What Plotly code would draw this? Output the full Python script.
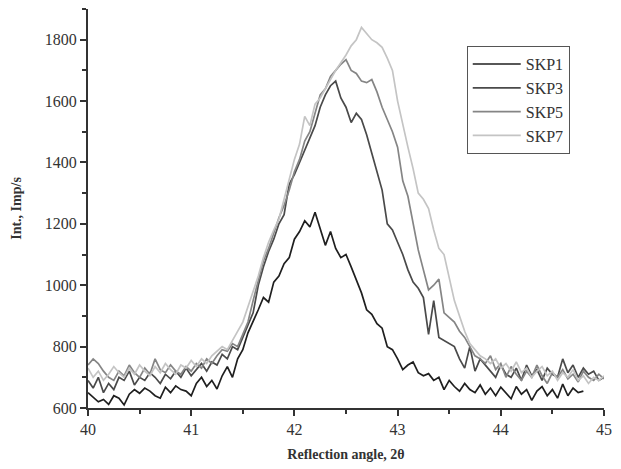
import plotly.graph_objects as go

# Scan angles (2θ, degrees)
angles = [
    40.00, 40.05, 40.10, 40.15, 40.20, 40.25, 40.30, 40.35, 40.40, 40.45,
    40.50, 40.55, 40.60, 40.65, 40.70, 40.75, 40.80, 40.85, 40.90, 40.95,
    41.00, 41.05, 41.10, 41.15, 41.20, 41.25, 41.30, 41.35, 41.40, 41.45,
    41.50, 41.55, 41.60, 41.65, 41.70, 41.75, 41.80, 41.85, 41.90, 41.95,
    42.00, 42.05, 42.10, 42.15, 42.20, 42.25, 42.30, 42.35, 42.40, 42.45,
    42.50, 42.55, 42.60, 42.65, 42.70, 42.75, 42.80, 42.85, 42.90, 42.95,
    43.00, 43.05, 43.10, 43.15, 43.20, 43.25, 43.30, 43.35, 43.40, 43.45,
    43.50, 43.55, 43.60, 43.65, 43.70, 43.75, 43.80, 43.85, 43.90, 43.95,
    44.00, 44.05, 44.10, 44.15, 44.20, 44.25, 44.30, 44.35, 44.40, 44.45,
    44.50, 44.55, 44.60, 44.65, 44.70, 44.75, 44.80, 44.85, 44.90, 44.95,
    45.00,
]

# Intensities, Imp/s
skp1 = [
    650, 635, 620, 628, 612, 640, 632, 610, 645, 660,
    648, 665, 655, 640, 632, 668, 650, 672, 660, 655,
    640, 680, 700, 670, 690, 662, 705, 735, 700, 760,
    790, 845, 880, 920, 960, 945, 1010, 1030, 1070, 1090,
    1150, 1175, 1210, 1190, 1238, 1180, 1130, 1175, 1120, 1090,
    1100, 1060, 1020, 975, 920, 905, 875, 860, 800, 790,
    760, 725, 740, 750, 715, 705, 712, 690, 700, 660,
    690, 670, 655, 680, 660, 650, 675, 645, 665, 640,
    668, 650, 630, 670, 645, 660, 625, 655, 670, 640,
    660, 632, 678, 640, 665, 650, 655,
]
skp3 = [
    690, 665, 700, 650, 680, 660, 700, 690, 720, 675,
    700, 690, 715, 700, 680, 710, 695, 720, 700, 730,
    705, 725, 745, 720, 750, 740, 775, 760, 800, 790,
    830, 870, 910, 1000, 1060, 1110, 1150, 1200, 1230, 1330,
    1360, 1400, 1440, 1480, 1520, 1580, 1620, 1650, 1665, 1610,
    1580, 1530, 1560, 1540, 1490, 1430, 1370, 1310, 1200, 1180,
    1140, 1100, 1050, 1010, 990, 960, 840, 950, 830, 820,
    810, 800, 760, 730, 800, 720, 760, 740, 720, 700,
    740, 710, 700, 730, 690, 740, 705, 725, 690, 730,
    710, 700, 760, 715, 740, 700, 730, 710, 720, 690,
    700,
]
skp5 = [
    740, 760, 745, 720, 700, 690, 720, 705, 740, 715,
    700, 730, 710, 760, 725, 715, 740, 720, 710, 735,
    720, 745, 730, 760, 745, 770, 790, 785, 810, 800,
    840, 880, 950, 1020, 1080, 1120, 1170, 1220, 1260, 1310,
    1370, 1410, 1470, 1500, 1560, 1620, 1640, 1680, 1700, 1720,
    1735, 1700, 1690, 1665, 1660, 1670, 1630, 1580, 1540, 1500,
    1450, 1340, 1290, 1200, 1115, 1050, 985, 1000, 1020, 910,
    895, 880, 850, 830, 800, 770, 760, 745, 770, 725,
    745, 700, 735, 710, 690, 720, 700, 740, 705, 680,
    715, 700, 725, 695, 710, 685, 720, 700, 690, 710,
    695,
]
skp7 = [
    730, 700, 720, 690, 710, 735, 715, 700, 730, 710,
    740, 720, 705, 735, 715, 745, 725, 710, 740, 730,
    755, 735, 760, 745, 770, 785, 800, 790, 820, 850,
    880, 930, 980, 1030, 1090, 1140, 1180, 1215, 1280, 1350,
    1410, 1460, 1550, 1520, 1590, 1610, 1640, 1670, 1700, 1725,
    1750, 1780, 1800, 1840, 1820, 1800, 1790, 1775, 1740, 1700,
    1600, 1520, 1450, 1380, 1300, 1280, 1250, 1180, 1120, 1100,
    1020, 950, 900, 850, 810, 790, 770, 760, 745, 760,
    730, 745, 720, 750, 715, 730, 700, 720, 735, 705,
    720, 690, 715, 700, 725, 690, 705, 680, 700, 690,
    705,
]

names = ["SKP1", "SKP3", "SKP5", "SKP7"]
series = [skp1, skp3, skp5, skp7]
colors = ["#1f1f1f", "#4a4a4a", "#858585", "#c4c4c4"]

fig = go.Figure()
for name, ys, col in zip(names, series, colors):
    fig.add_trace(go.Scatter(
        x=angles[:len(ys)], y=ys, mode="lines", name=name,
        line=dict(color=col, width=1.7),
    ))

serif = "Liberation Serif, Times New Roman, serif"
axis_common = dict(
    showline=True, linecolor="#333333", linewidth=2,
    ticks="outside", ticklen=6, tickwidth=1.5, tickcolor="#333333",
    showgrid=False, zeroline=False, mirror=False,
    tickfont=dict(family=serif, size=16, color="#333333"),
)

fig.update_layout(
    width=621, height=469,
    margin=dict(l=88, r=11, t=9, b=61),
    paper_bgcolor="white", plot_bgcolor="white",
    font=dict(family=serif, color="#333333"),
    xaxis=dict(
        range=[40, 45], dtick=1, tick0=40,
        minor=dict(dtick=0.5, ticks="outside", ticklen=4, tickwidth=1.5,
                   tickcolor="#333333"),
        title=dict(text="<b>Reflection angle, 2θ</b>",
                   font=dict(family=serif, size=14, color="#333333"),
                   standoff=12),
        **axis_common,
    ),
    yaxis=dict(
        range=[600, 1900], dtick=200, tick0=600,
        minor=dict(dtick=100, ticks="outside", ticklen=4, tickwidth=1.5,
                   tickcolor="#333333"),
        title=dict(text="<b>Int., Imp/s</b>",
                   font=dict(family=serif, size=14, color="#333333"),
                   standoff=20),
        **axis_common,
    ),
    legend=dict(
        x=0.734, y=0.907, xanchor="left", yanchor="top",
        bordercolor="#555555", borderwidth=1, bgcolor="white",
        font=dict(family=serif, size=16, color="#333333"),
        itemwidth=48, tracegroupgap=0,
    ),
    showlegend=True,
)

fig.write_html("out.html")
